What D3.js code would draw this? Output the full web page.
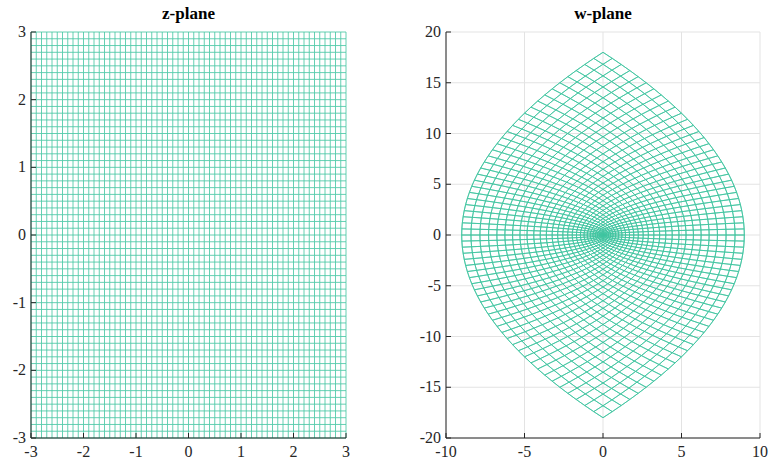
<!DOCTYPE html>
<html>
<head>
  <script src="https://d3js.org/d3.v7.min.js"></script>
  <style>
    body { margin: 0; background: #fff; }
    text { font-family: "Liberation Serif", "Times New Roman", serif; fill: #262626; }
  </style>
</head>
<body>
  <svg id="chart" width="774" height="465"></svg>
  <script>
    // z-plane grid: lines at x = const and y = const, from -3 to 3 step 0.1
    const gridMin = -3, gridStep = 0.1, gridCount = 61;
    const gridVals = d3.range(0, gridCount).map(i => +(gridMin + i * gridStep).toFixed(2));

    const zTicksX = [-3, -2, -1, 0, 1, 2, 3];
    const zTicksY = [-3, -2, -1, 0, 1, 2, 3];
    const wTicksX = [-10, -5, 0, 5, 10];
    const wTicksY = [-20, -15, -10, -5, 0, 5, 10, 15, 20];

    const meshColor = "#3fc4a0";
    const svg = d3.select("#chart");

    // w = z^2
    const mapW = (x, y) => [x * x - y * y, 2 * x * y];

    function panel(opts) {
      const xs = d3.scaleLinear().domain(opts.xd).range([opts.x0, opts.x1]);
      const ys = d3.scaleLinear().domain(opts.yd).range([opts.y1, opts.y0]);
      const g = svg.append("g");

      if (opts.grid) {
        g.append("g").selectAll("line").data(opts.tx).join("line")
          .attr("x1", d => xs(d)).attr("x2", d => xs(d))
          .attr("y1", opts.y0).attr("y2", opts.y1)
          .attr("stroke", "#e3e3e3").attr("stroke-width", 1);
        g.append("g").selectAll("line").data(opts.ty).join("line")
          .attr("y1", d => ys(d)).attr("y2", d => ys(d))
          .attr("x1", opts.x0).attr("x2", opts.x1)
          .attr("stroke", "#e3e3e3").attr("stroke-width", 1);
      }

      const line = d3.line().x(d => xs(d[0])).y(d => ys(d[1]));
      const mesh = g.append("g").attr("fill", "none").attr("stroke", meshColor)
        .attr("stroke-width", 0.8);
      // lines x = c
      gridVals.forEach(c => {
        mesh.append("path").attr("d", line(gridVals.map(y => opts.map(c, y))));
      });
      // lines y = c
      gridVals.forEach(c => {
        mesh.append("path").attr("d", line(gridVals.map(x => opts.map(x, c))));
      });

      // axes (left + bottom, ticks inward)
      const ax = g.append("g").attr("stroke", "#262626").attr("stroke-width", 1);
      ax.append("line").attr("x1", opts.x0).attr("x2", opts.x0)
        .attr("y1", opts.y0).attr("y2", opts.y1);
      ax.append("line").attr("x1", opts.x0).attr("x2", opts.x1)
        .attr("y1", opts.y1).attr("y2", opts.y1);
      ax.selectAll("line.tx").data(opts.tx).join("line").attr("class", "tx")
        .attr("x1", d => xs(d)).attr("x2", d => xs(d))
        .attr("y1", opts.y1).attr("y2", opts.y1 - 5);
      ax.selectAll("line.ty").data(opts.ty).join("line").attr("class", "ty")
        .attr("y1", d => ys(d)).attr("y2", d => ys(d))
        .attr("x1", opts.x0).attr("x2", opts.x0 + 5);

      g.append("g").selectAll("text").data(opts.tx).join("text")
        .attr("x", d => xs(d)).attr("y", opts.y1 + 19)
        .attr("text-anchor", "middle").attr("font-size", 16)
        .text(d => d);
      g.append("g").selectAll("text").data(opts.ty).join("text")
        .attr("x", opts.x0 - 5).attr("y", d => ys(d) + 5)
        .attr("text-anchor", "end").attr("font-size", 16)
        .text(d => d);

      g.append("text").attr("x", (opts.x0 + opts.x1) / 2).attr("y", 19)
        .attr("text-anchor", "middle").attr("font-size", 17)
        .attr("font-weight", "bold").style("fill", "#000")
        .text(opts.title);
    }

    panel({
      title: "z-plane", x0: 31, x1: 346, y0: 32, y1: 438,
      xd: [-3, 3], yd: [-3, 3], tx: zTicksX, ty: zTicksY,
      map: (x, y) => [x, y], grid: false
    });

    panel({
      title: "w-plane", x0: 446, x1: 760, y0: 32, y1: 438,
      xd: [-10, 10], yd: [-20, 20], tx: wTicksX, ty: wTicksY,
      map: mapW, grid: true
    });
  </script>
</body>
</html>
